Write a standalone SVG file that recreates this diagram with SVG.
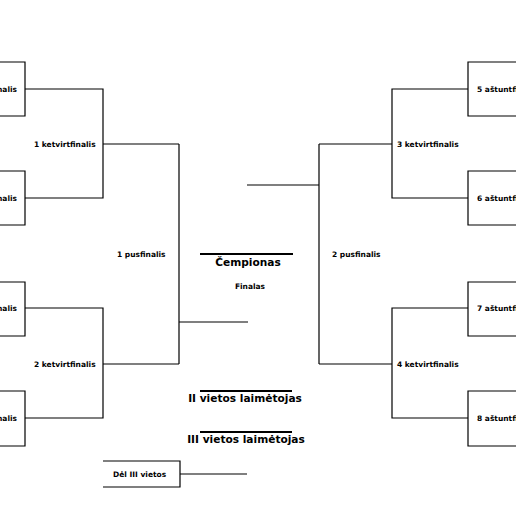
<svg xmlns="http://www.w3.org/2000/svg" width="516" height="516" viewBox="0 0 516 516">
<style>
.ln{stroke:#000;stroke-width:1.2;fill:none}
.bar{stroke:#000;stroke-width:2;fill:none}
.s{font-family:"DejaVu Sans",Verdana,sans-serif;font-weight:bold;font-size:7.5px;fill:#000}
.b{font-family:"DejaVu Sans",Verdana,sans-serif;font-weight:bold;font-size:10.6px;fill:#000}
</style>
<rect width="516" height="516" fill="#fff"/>
<g id="connectors">
<path class="ln" d="M25,89H103V198H25M103,144H179M25,308H103V418H25M103,364H179M179,144V364M179,322H248"/>
<path class="ln" d="M468,89H392V198H468M392,144H319M468,308H392V418H468M392,364H319M319,144V364M319,185H247"/>
<path class="ln" d="M180,474H247"/>
</g>
<g id="r16-1"><path class="ln" d="M-60,62H25V116H-60"/><text class="s" x="17" y="92" text-anchor="end">1 aštuntfinalis</text></g>
<g id="r16-2"><path class="ln" d="M-60,171H25V225H-60"/><text class="s" x="17" y="201" text-anchor="end">2 aštuntfinalis</text></g>
<g id="r16-3"><path class="ln" d="M-60,282H25V336H-60"/><text class="s" x="17" y="311" text-anchor="end">3 aštuntfinalis</text></g>
<g id="r16-4"><path class="ln" d="M-60,391H25V446H-60"/><text class="s" x="17" y="421" text-anchor="end">4 aštuntfinalis</text></g>
<g id="r16-5"><path class="ln" d="M576,62H468V116H576"/><text class="s" x="477" y="92">5 aštuntfinalis</text></g>
<g id="r16-6"><path class="ln" d="M576,171H468V225H576"/><text class="s" x="477" y="201">6 aštuntfinalis</text></g>
<g id="r16-7"><path class="ln" d="M576,282H468V336H576"/><text class="s" x="477" y="311">7 aštuntfinalis</text></g>
<g id="r16-8"><path class="ln" d="M576,391H468V446H576"/><text class="s" x="477" y="421">8 aštuntfinalis</text></g>
<g id="qf-1"><text class="s" x="34" y="147">1 ketvirtfinalis</text></g>
<g id="qf-2"><text class="s" x="34" y="367">2 ketvirtfinalis</text></g>
<g id="qf-3"><text class="s" x="397" y="147">3 ketvirtfinalis</text></g>
<g id="qf-4"><text class="s" x="397" y="367">4 ketvirtfinalis</text></g>
<g id="sf-1"><text class="s" x="117" y="257">1 pusfinalis</text></g>
<g id="sf-2"><text class="s" x="332" y="257">2 pusfinalis</text></g>
<g id="champion"><path class="bar" d="M200,254H293"/><text class="b" x="248" y="266" text-anchor="middle">Čempionas</text><text class="s" x="250" y="289" text-anchor="middle">Finalas</text></g>
<g id="second"><path class="bar" d="M200,391H292"/><text class="b" x="245" y="402" text-anchor="middle">II vietos laimėtojas</text></g>
<g id="third"><path class="bar" d="M200,432H292"/><text class="b" x="246" y="443" text-anchor="middle">III vietos laimėtojas</text></g>
<g id="bronze"><path class="ln" d="M103,461H180V487H103"/><text class="s" x="113" y="477">Dėl III vietos</text></g>
</svg>
